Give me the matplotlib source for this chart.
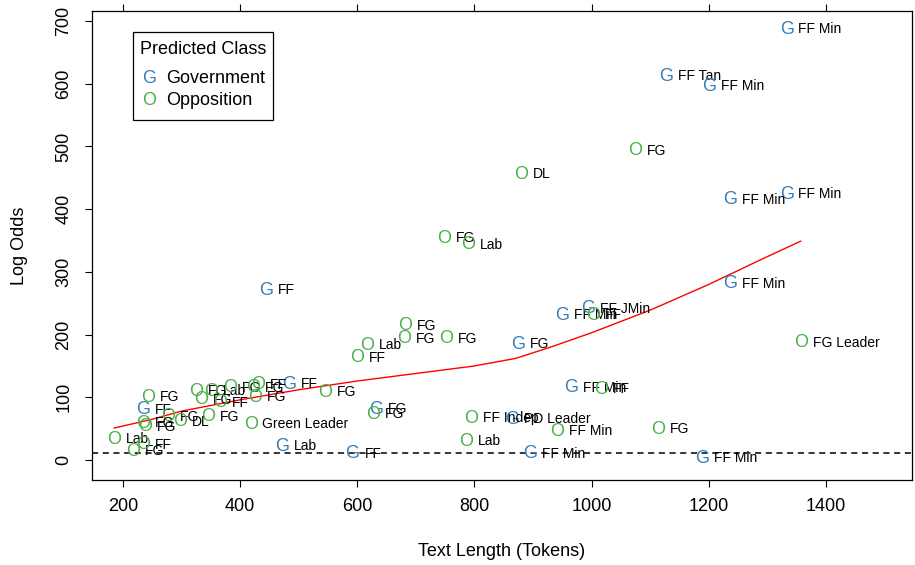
import numpy as np
import matplotlib
matplotlib.use("Agg")
import matplotlib.pyplot as plt

plt.rcParams['font.family'] = ['Liberation Sans', 'DejaVu Sans']

# government-predicted speeches
gov_len = [1333, 1128, 1200, 1333, 1236, 1237, 444, 949, 994, 874, 965, 483,
           234, 632, 864, 471, 592, 895, 1188]
gov_odds = [687, 612, 596, 424, 415, 281, 271, 231, 241, 185, 115, 121,
            80, 81, 65, 22, 10, 10, 3]
gov_lab = ['FF Min', 'FF Tan', 'FF Min', 'FF Min', 'FF Min', 'FF Min', 'FF',
           'FF Min', 'FF JMin', 'FG', 'FF Min', 'FF', 'FF', 'FG', 'PD Leader',
           'Lab', 'FF', 'FF Min', 'FF Min']

# opposition-predicted speeches
opp_len = [1075, 879, 749, 789, 1357, 681, 680, 751, 616, 599, 1002, 1016,
           545, 794, 941, 1113, 785, 627, 418, 345, 243, 277, 297, 234, 238,
           185, 217, 234, 325, 350, 383, 422, 430, 333, 366, 425]
opp_odds = [493, 456, 354, 343, 187, 214, 193, 193, 183, 163, 231, 113,
            108, 67, 46, 49, 30, 73, 57, 69, 100, 69, 61, 59, 53,
            33, 14, 24, 110, 110, 115, 115, 120, 96, 91, 100]
opp_lab = ['FG', 'DL', 'FG', 'Lab', 'FG Leader', 'FG', 'FG', 'FG', 'Lab', 'FF',
           'FF', 'FF', 'FG', 'FF Indep', 'FF Min', 'FG', 'Lab', 'FG',
           'Green Leader', 'FG', 'FG', 'FG', 'DL', 'FG', 'FG', 'Lab', 'FG', 'FF',
           'FG', 'Lab', 'FG', 'FG', 'FF', 'FG', 'FF', 'FG']

# smoothed trend
trend_x = [185, 250, 300, 400, 500, 600, 700, 800, 870, 930, 1000, 1100,
           1200, 1290, 1357]
trend_y = [51, 65, 78, 96, 112, 126, 138, 150, 162, 180, 203, 239, 280, 320, 349]

threshold = 11

BLUE = '#377EB8'
GREEN = '#4DAF4A'

fig = plt.figure(figsize=(9.15, 5.65), dpi=100)
ax = fig.add_axes([0.1005, 0.1504, 0.8962, 0.8301])
ax.set_xlim(147.1, 1546.9)
ax.set_ylim(-31.9, 716)


def draw_points(xs, ys, labels, sym, col):
    for x, y, lab in zip(xs, ys, labels):
        ax.text(x, y, sym, color=col, fontsize=13, ha='center', va='center')
        ax.annotate(lab, (x, y), xytext=(8.5, 0), textcoords='offset points',
                    fontsize=10, ha='left', va='center')


draw_points(gov_len, gov_odds, gov_lab, 'G', BLUE)
draw_points(opp_len, opp_odds, opp_lab, 'O', GREEN)

ax.plot(trend_x, trend_y, color='red', lw=1)
ax.axhline(threshold, color='black', lw=1.1, ls=(0, (4, 3)))

ax.set_xticks(range(200, 1401, 200))
ax.set_yticks(range(0, 701, 100))
ax.tick_params(direction='out', length=5, width=0.8, labelsize=13, top=True)
ax.tick_params(axis='x', pad=8)
ax.tick_params(axis='y', pad=9)
for t in ax.get_yticklabels():
    t.set_rotation(90)
    t.set_va('center')
for s in ax.spines.values():
    s.set_linewidth(0.9)

ax.set_xlabel('Text Length (Tokens)', fontsize=13, labelpad=20)
ax.set_ylabel('Log Odds', fontsize=13, labelpad=20)

# legend box
tr = ax.transAxes
ax.add_patch(plt.Rectangle((0.05, 0.7676), 0.1707, 0.1874, transform=tr,
                           fill=False, lw=0.9, ec='black'))
ax.text(0.1354, 0.917, 'Predicted Class', transform=tr, fontsize=13,
        ha='center', va='center')
ax.text(0.0695, 0.8571, 'G', transform=tr, color=BLUE, fontsize=13,
        ha='center', va='center')
ax.text(0.0902, 0.8571, 'Government', transform=tr, fontsize=13,
        ha='left', va='center')
ax.text(0.0695, 0.8102, 'O', transform=tr, color=GREEN, fontsize=13,
        ha='center', va='center')
ax.text(0.0902, 0.8102, 'Opposition', transform=tr, fontsize=13,
        ha='left', va='center')

fig.savefig('out.png', dpi=100)
